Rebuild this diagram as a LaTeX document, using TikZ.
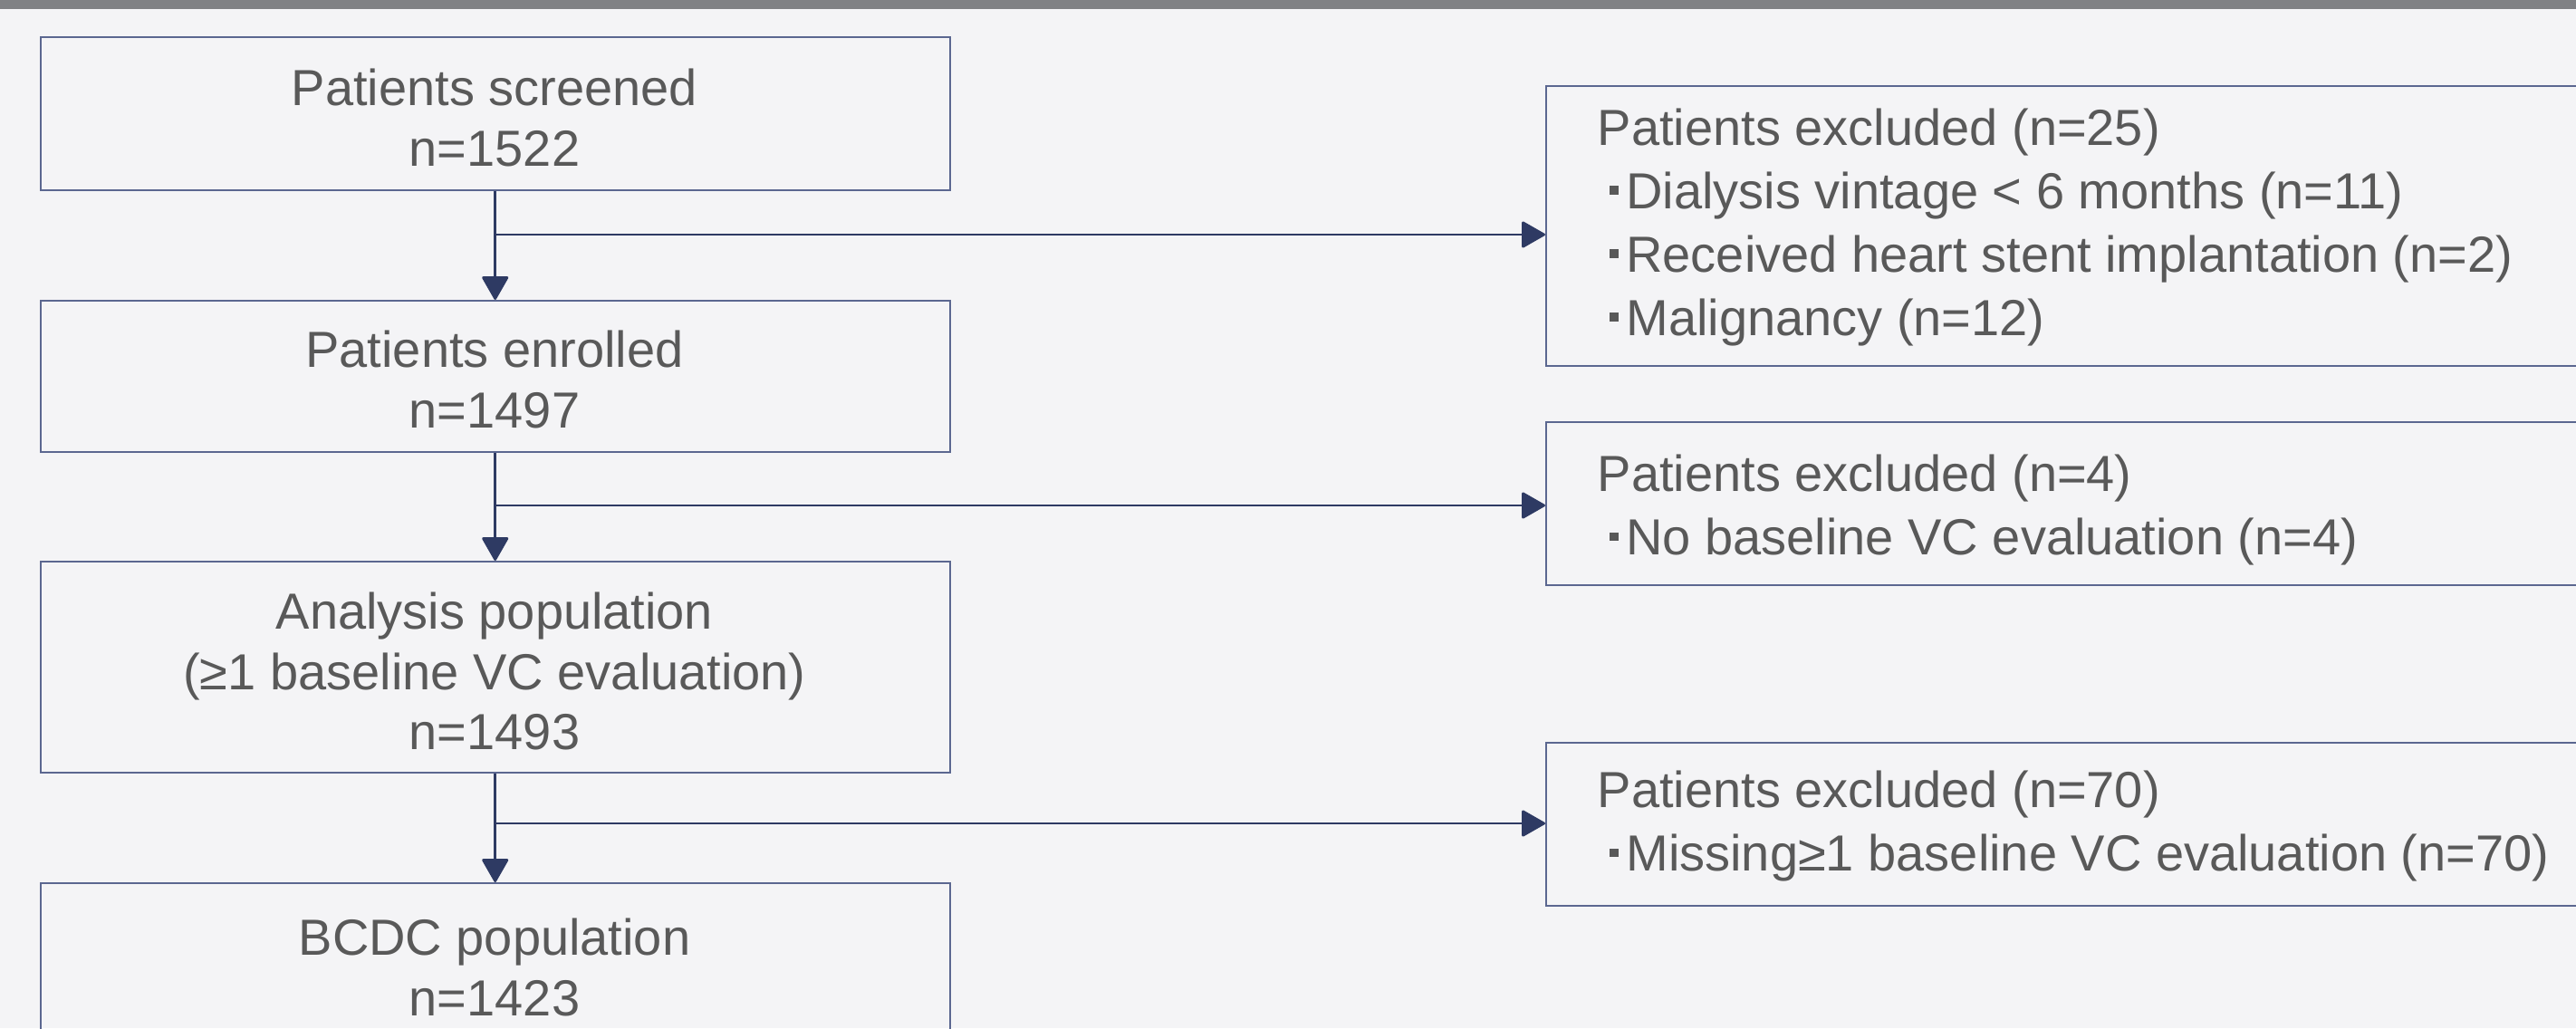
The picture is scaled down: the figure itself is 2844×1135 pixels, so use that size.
\documentclass[tikz,border=0pt]{standalone}
\usepackage{fontspec}
\setmainfont{Liberation Sans}
\usetikzlibrary{arrows.meta}
\definecolor{bg}{HTML}{F4F4F6}
\definecolor{topbar}{HTML}{808184}
\definecolor{txt}{HTML}{595959}
\definecolor{bord}{HTML}{5B6790}
\definecolor{navy}{HTML}{2E3A63}
\newcommand{\bul}{\hspace{3.3pt}\rule[4pt]{2.4pt}{2.3pt}\hspace{2.2pt}}
\begin{document}
\begin{tikzpicture}[x=0.25pt,y=-0.25pt,
  box/.style={draw=bord, line width=0.5pt, inner sep=0pt, anchor=north west},
  ltxt/.style={text=txt, inner sep=0pt, anchor=north, align=center, font=\fontsize{14pt}{16.67pt}\selectfont},
  rtxt/.style={text=txt, inner sep=0pt, anchor=north west, align=left, font=\fontsize{14pt}{17.5pt}\selectfont},
  conn/.style={draw=navy, line width=0.65pt},
  arr/.style={conn, -{Triangle[width=7.6pt,length=6.8pt,round]}}]
\useasboundingbox (0,0) rectangle (2844,1135);
\clip (0,0) rectangle (2844,1135);
\fill[bg] (0,0) rectangle (2844,1135);
\fill[topbar] (0,0) rectangle (2844,10);

% left boxes
\node[box, minimum width=251.1pt, minimum height=42.15pt] (b1) at (43.5,40) {};
\node[box, minimum width=251.1pt, minimum height=41.75pt] (b2) at (43.5,331) {};
\node[box, minimum width=251.1pt, minimum height=58.25pt] (b3) at (43.5,619) {};
\node[box, minimum width=251.1pt, minimum height=56.5pt] (b4) at (43.5,974) {};

% right boxes
\node[box, minimum width=325pt, minimum height=77.25pt] (r1) at (1706,94) {};
\node[box, minimum width=325pt, minimum height=45pt] (r2) at (1706,465) {};
\node[box, minimum width=325pt, minimum height=44.9pt] (r3) at (1706,819) {};

% left texts
\node[ltxt] (t1) at (546,75) {Patients screened\\n=1522};
\node[ltxt] (t2) at (546,364.4) {Patients enrolled\\n=1497};
\node[ltxt] (t3) at (546,653) {Analysis population\\(≥1 baseline VC evaluation)\\n=1493};
\node[ltxt] (t4) at (546,1013.3) {BCDC population\\n=1423};

% right texts
\node[rtxt] (u1) at (1763,119.3) {Patients excluded (n=25)\\\bul Dialysis vintage < 6 months (n=11)\\\bul Received heart stent implantation (n=2)\\\bul Malignancy (n=12)};
\node[rtxt] (u2) at (1763,501.6) {Patients excluded (n=4)\\\bul No baseline VC evaluation (n=4)};
\node[rtxt] (u3) at (1763,850.6) {Patients excluded (n=70)\\\bul Missing≥1 baseline VC evaluation (n=70)};

% connectors
\draw[arr] (b1.south) -- (b2.north);
\draw[arr] (b2.south) -- (b3.north);
\draw[arr] (b3.south) -- (b4.north);
\coordinate (j1) at (b1.south |- 0,259);
\coordinate (j2) at (b2.south |- 0,558);
\coordinate (j3) at (b3.south |- 0,909);
\draw[arr] (j1) -- (j1 -| r1.west);
\draw[arr] (j2) -- (j2 -| r2.west);
\draw[arr] (j3) -- (j3 -| r3.west);
\end{tikzpicture}
\end{document}
